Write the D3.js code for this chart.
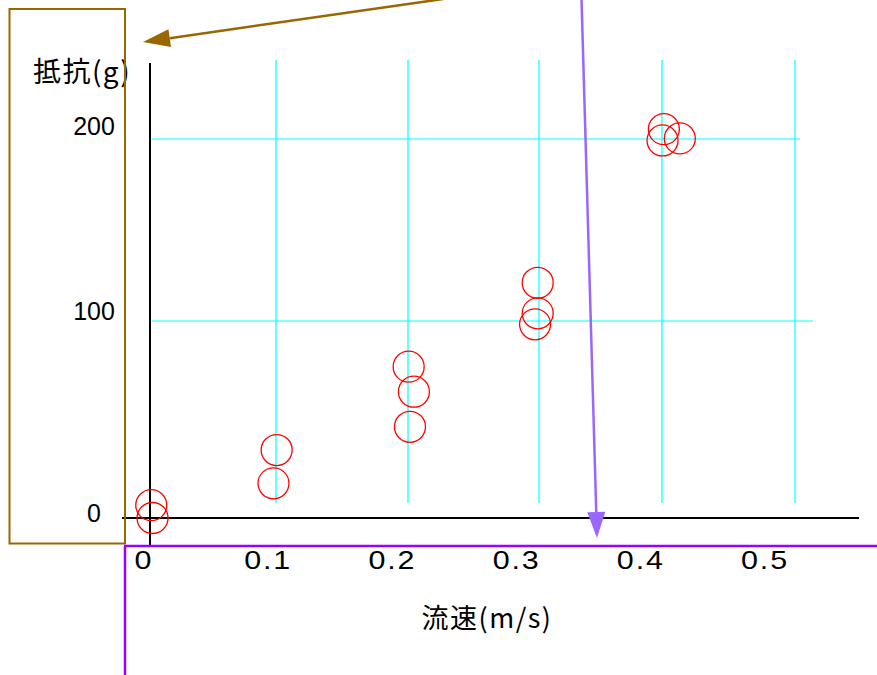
<!DOCTYPE html>
<html>
<head>
<meta charset="utf-8">
<script src="https://cdn.jsdelivr.net/npm/d3@7"></script>
<style>
  html, body { margin: 0; padding: 0; background: #fff; }
  svg { display: block; }
</style>
</head>
<body>
<svg id="chart" width="877" height="675"></svg>
<script>
// ---- data ----
const flowSpeed = [0.001, 0.002, 0.1005, 0.098, 0.2005, 0.2045, 0.2015, 0.299, 0.299, 0.297, 0.4014, 0.4004, 0.4134];
const resistance = [6.5, 0, 34.5, 17.6, 76.8, 64.1, 46.3, 121, 104.2, 98.3, 205.4, 199.2, 200.3];
const xTickValues = [0, 0.1, 0.2, 0.3, 0.4, 0.5];
const xTickLabels = ["0", "0.1", "0.2", "0.3", "0.4", "0.5"];
const yTickValues = [0, 100, 200];
const yTickLabels = ["0", "100", "200"];
const xGridValues = [0.1, 0.2, 0.3, 0.4, 0.5];
const yGridValues = [100, 200];
const xTitle = "流速(m/s)";
const yTitle = "抵抗(g)";

// ---- layout ----
const svg = d3.select("#chart");
// hand-drawn grid: polylinear scales follow the drawn grid lines
const x = d3.scaleLinear().domain(xTickValues).range([150, 276, 408, 539, 662, 795]);
const y = d3.scaleLinear().domain(yTickValues).range([518, 321, 139]);
// tick labels were placed separately
const xLabelPos = d3.scaleLinear().domain([0, 0.5]).range([144, 765]);
const yLabelPos = d3.scaleLinear().domain(yTickValues).range([513, 311, 126]);

const cyan = "#00ffff";

// vertical grid lines
svg.append("g").selectAll("line").data(xGridValues).join("line")
  .attr("x1", d => x(d)).attr("x2", d => x(d))
  .attr("y1", 60).attr("y2", 503)
  .attr("stroke", cyan).attr("stroke-width", 1.2);

// horizontal grid lines
svg.append("g").selectAll("line").data(yGridValues).join("line")
  .attr("x1", x(0) + 2).attr("x2", d => d === 100 ? 813 : 800)
  .attr("y1", d => y(d)).attr("y2", d => y(d))
  .attr("stroke", cyan).attr("stroke-width", 1.2);

// axes
svg.append("line").attr("x1", x(0)).attr("x2", x(0)).attr("y1", 63).attr("y2", 545)
  .attr("stroke", "#000").attr("stroke-width", 2);
svg.append("line").attr("x1", 122).attr("x2", 859).attr("y1", y(0)).attr("y2", y(0))
  .attr("stroke", "#000").attr("stroke-width", 2);

// y tick labels
svg.append("g").selectAll("text").data(yTickValues).join("text")
  .attr("x", 94).attr("y", d => yLabelPos(d))
  .attr("dy", "0.35em")
  .attr("text-anchor", "middle")
  .attr("font-family", "'Liberation Sans', Arial, sans-serif")
  .attr("font-size", 25)
  .attr("fill", "#000")
  .text((d, i) => yTickLabels[i]);

// x tick labels (wide lettering)
svg.append("g").selectAll("text").data(xTickValues).join("text")
  .attr("transform", d => `translate(${xLabelPos(d)},569) scale(1.22,1)`)
  .attr("text-anchor", "middle")
  .attr("font-family", "'Liberation Sans', Arial, sans-serif")
  .attr("font-size", 25)
  .attr("letter-spacing", 1.5)
  .attr("fill", "#000")
  .text((d, i) => xTickLabels[i]);

// axis titles
svg.append("text")
  .attr("x", 487).attr("y", 628)
  .attr("text-anchor", "middle")
  .attr("font-family", "'Noto Sans CJK JP', sans-serif")
  .attr("font-size", 27)
  .attr("letter-spacing", 1.5)
  .attr("fill", "#000")
  .text(xTitle);

svg.append("text")
  .attr("x", 82).attr("y", 82)
  .attr("text-anchor", "middle")
  .attr("font-family", "'Noto Sans CJK JP', sans-serif")
  .attr("font-size", 28)
  .attr("letter-spacing", 1.5)
  .attr("fill", "#000")
  .text(yTitle);

// data points
svg.append("g").selectAll("circle").data(flowSpeed).join("circle")
  .attr("cx", d => x(d))
  .attr("cy", (d, i) => y(resistance[i]))
  .attr("r", 15.5)
  .attr("fill", "none")
  .attr("stroke", "#ff0000")
  .attr("stroke-width", 1.3);

// ---- annotations ----
function arrow(x1, y1, x2, y2, color, width, headLen, headHalf) {
  const dx = x2 - x1, dy = y2 - y1, L = Math.hypot(dx, dy);
  const ux = dx / L, uy = dy / L;
  const bx = x2 - ux * headLen, by = y2 - uy * headLen;
  svg.append("line").attr("x1", x1).attr("y1", y1).attr("x2", bx).attr("y2", by)
    .attr("stroke", color).attr("stroke-width", width);
  svg.append("polygon")
    .attr("points", [[x2, y2], [bx - uy * headHalf, by + ux * headHalf], [bx + uy * headHalf, by - ux * headHalf]].map(p => p.join(",")).join(" "))
    .attr("fill", color);
}

// brown box
svg.append("rect").attr("x", 9.5).attr("y", 9).attr("width", 115.5).attr("height", 534.5)
  .attr("fill", "none").attr("stroke", "#996600").attr("stroke-width", 2);
arrow(443, -1, 143, 42, "#996600", 2.5, 27, 9);

// purple L lines
svg.append("line").attr("x1", 124).attr("x2", 877).attr("y1", 546).attr("y2", 546)
  .attr("stroke", "#9900ff").attr("stroke-width", 2.5);
svg.append("line").attr("x1", 125).attr("x2", 125).attr("y1", 546).attr("y2", 675)
  .attr("stroke", "#9900ff").attr("stroke-width", 2.5);
arrow(581.5, -1, 597, 538, "#9966ff", 2.5, 26, 9);
</script>
</body>
</html>
